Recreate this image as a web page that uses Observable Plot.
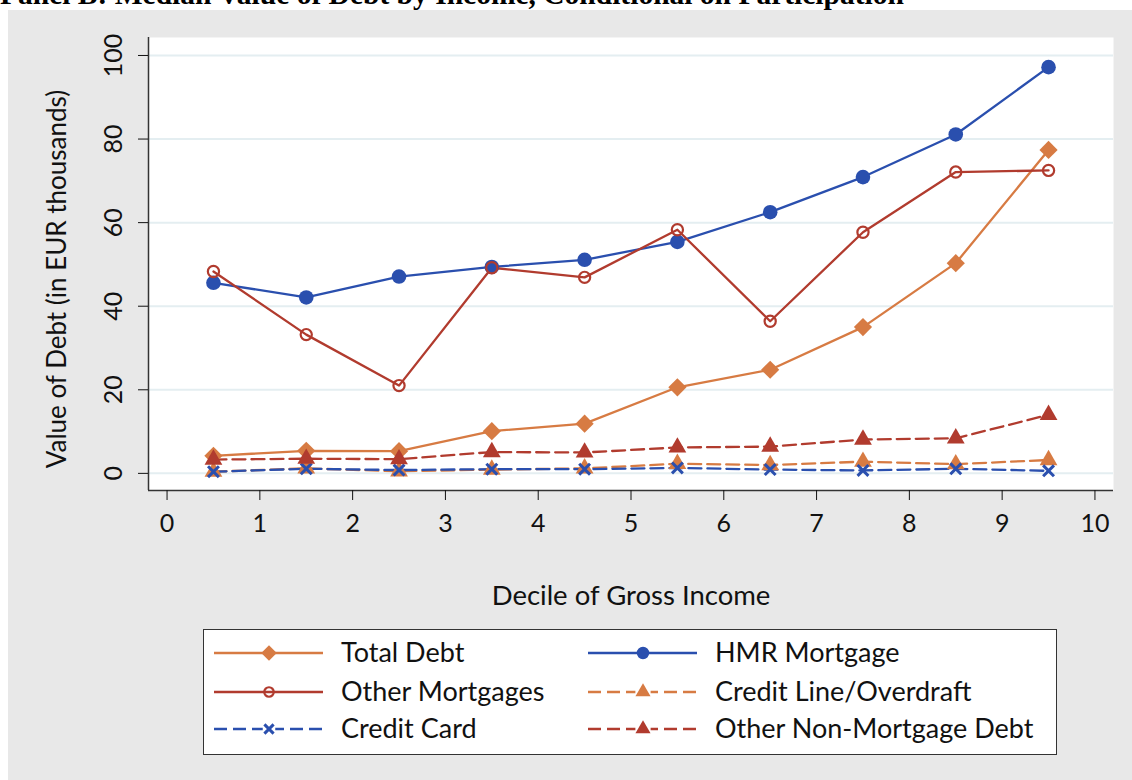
<!DOCTYPE html>
<html>
<head>
<meta charset="utf-8">
<script src="https://cdn.jsdelivr.net/npm/d3@7"></script>
<script src="https://cdn.jsdelivr.net/npm/@observablehq/plot@0.6"></script>
<style>
  body { margin: 0; width: 1132px; height: 780px; position: relative; overflow: hidden; background: #fff; font-family: Lato, "Open Sans", sans-serif; }
  #title { position: absolute; left: 0; top: -20px; font: bold 29.5px/29.5px "Liberation Serif", "Times New Roman", serif; white-space: nowrap; color: #000; }
  #panel { position: absolute; left: 8px; top: 10px; right: 0; bottom: 0; background: #e8e8e8; }
  #chart { position: absolute; left: 0; top: 10px; }
  #legend { position: absolute; left: 203px; top: 629px; width: 854px; height: 126px; border: 1.5px solid #333; background: #fff; box-sizing: border-box; }
  #legend svg { position: absolute; left: 0; top: 0; }
</style>
</head>
<body>
<div id="title">Panel B: Median Value of Debt by Income, Conditional on Participation</div>
<div id="panel"></div>
<div id="chart"></div>
<div id="legend"></div>
<script>
// ---- data ----
const deciles = [0.5, 1.5, 2.5, 3.5, 4.5, 5.5, 6.5, 7.5, 8.5, 9.5];
const totalDebt        = [4.2, 5.4, 5.3, 10.1, 11.9, 20.6, 24.8, 35.0, 50.3, 77.4];
const hmrMortgage      = [45.6, 42.1, 47.1, 49.4, 51.1, 55.4, 62.5, 70.9, 81.1, 97.2];
const otherMortgages   = [48.3, 33.2, 21.0, 49.2, 46.9, 58.3, 36.4, 57.7, 72.1, 72.5];
const creditLine       = [0.4, 1.2, 0.5, 0.9, 1.2, 2.3, 2.0, 2.8, 2.2, 3.2];
const creditCard       = [0.4, 1.1, 0.8, 1.0, 1.0, 1.3, 0.9, 0.7, 1.1, 0.6];
const otherNonMortgage = [3.3, 3.5, 3.4, 5.1, 5.0, 6.2, 6.4, 8.1, 8.4, 14.0];
const xTicks = [0, 1, 2, 3, 4, 5, 6, 7, 8, 9, 10];
const yTicks = [0, 20, 40, 60, 80, 100];
const seriesNames = ["Total Debt", "HMR Mortgage", "Other Mortgages", "Credit Line/Overdraft", "Credit Card", "Other Non-Mortgage Debt"];
const xLabel = "Decile of Gross Income";
const yLabel = "Value of Debt (in EUR thousands)";

// ---- styles ----
const orange = "#d77b43", blue = "#2a4fae", red = "#b13b2e";
const xDomain = [-0.2, 10.2];
const yDomain = [-4.1, 104.3];
const styles = [
  {values: totalDebt,        color: orange, dash: null,  symbol: "diamond2", r: 8.2, fill: orange, sw: 0},
  {values: hmrMortgage,      color: blue,   dash: null,  symbol: "circle",   r: 7.3, fill: blue,   sw: 0},
  {values: otherMortgages,   color: red,    dash: null,  symbol: "circle",   r: 5.6, fill: "none", sw: 2.2},
  {values: creditLine,       color: orange, dash: "13,6", symbol: "triangle", r: 6.6, fill: orange, sw: 0},
  {values: creditCard,       color: blue,   dash: "13,6", symbol: "times",    r: 5.0, fill: "none", sw: 3},
  {values: otherNonMortgage, color: red,    dash: "13,6", symbol: "triangle", r: 6.6, fill: red,    sw: 0}
];
const seriesData = styles.map((s, k) => deciles.map((x, i) => ({x, y: s.values[i], name: seriesNames[k]})));

const seriesMarks = [];
styles.forEach((s, k) => {
  seriesMarks.push(Plot.line(seriesData[k], {x: "x", y: "y", stroke: s.color, strokeWidth: 2.3, strokeDasharray: s.dash, strokeLinejoin: "round"}));
});
styles.forEach((s, k) => {
  seriesMarks.push(Plot.dot(seriesData[k], {x: "x", y: "y", symbol: () => s.symbol, r: s.r,
    fill: s.fill, stroke: s.sw ? s.color : "none", strokeWidth: s.sw}));
});

const chart = Plot.plot({
  width: 1132, height: 610,
  marginLeft: 148, marginRight: 19, marginTop: 27, marginBottom: 130,
  style: {background: "transparent", fontFamily: "Lato, 'Open Sans', sans-serif", fontSize: "25px", color: "#111", overflow: "visible"},
  x: {domain: xDomain},
  y: {domain: yDomain},
  symbol: {type: "identity"},
  marks: [
    Plot.frame({fill: "white", stroke: null}),
    Plot.gridY(yTicks, {stroke: "#e4eef1", strokeOpacity: 1, strokeWidth: 2}),
    Plot.ruleX([xDomain[0]], {stroke: "#333", strokeWidth: 1.5}),
    Plot.ruleY([yDomain[0]], {stroke: "#333", strokeWidth: 1.5}),
    Plot.axisX({ticks: xTicks, tickSize: 10, tickPadding: 14, tickFormat: d => String(d), label: null, fontSize: 25}),
    Plot.axisY({ticks: yTicks, tickSize: 10, tickRotate: -90, tickPadding: 17, tickFormat: d => String(d), label: null, fontSize: 25}),
    ...seriesMarks,
    Plot.text([xLabel], {text: d => d, frameAnchor: "bottom", dy: 106, textAnchor: "middle", lineAnchor: "middle", fontSize: 27.5, fill: "#111"}),
    Plot.text([yLabel], {text: d => d, frameAnchor: "left", rotate: -90, dx: -91, dy: 15, textAnchor: "middle", lineAnchor: "middle", fontSize: 26, fill: "#111"})
  ]
});
document.getElementById("chart").appendChild(chart);

// ---- legend ----
const leg = d3.select("#legend").append("svg").attr("width", 854).attr("height", 126)
  .style("font-family", "Lato, 'Open Sans', sans-serif").style("font-size", "27px");
const symMap = {diamond2: d3.symbolDiamond2, circle: d3.symbolCircle, triangle: d3.symbolTriangle, times: d3.symbolTimes};
const rowY = [23, 62, 99];
const colX = [10, 384];
styles.forEach((s, k) => {
  const col = k % 2, row = Math.floor(k / 2);
  const g = leg.append("g").attr("transform", `translate(${colX[col]},${rowY[row]})`);
  g.append("line").attr("x1", 0).attr("x2", 109).attr("y1", 0).attr("y2", 0)
    .attr("stroke", s.color).attr("stroke-width", 2.3).attr("stroke-dasharray", s.dash);
  const lr = s.r * 0.85;
  g.append("rect").attr("x", 55 - lr - 2).attr("y", -lr).attr("width", 2 * lr + 4).attr("height", 2 * lr).attr("fill", "white").attr("opacity", s.dash ? 1 : 0);
  g.append("path").attr("transform", "translate(55,0)")
    .attr("d", d3.symbol(symMap[s.symbol], Math.PI * lr * lr)())
    .attr("fill", s.fill).attr("stroke", s.sw ? s.color : "none").attr("stroke-width", s.sw);
  g.append("text").attr("x", 127).attr("y", 0).attr("dy", "0.35em").attr("fill", "#111").text(seriesNames[k]);
});
</script>
</body>
</html>
